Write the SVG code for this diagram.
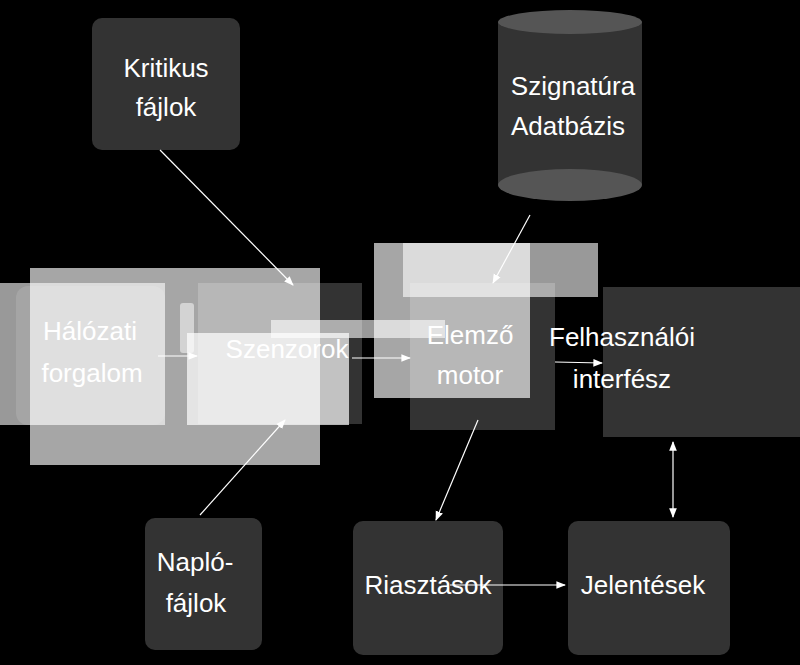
<svg xmlns="http://www.w3.org/2000/svg" width="800" height="665" viewBox="0 0 800 665">
<defs>
<style>
.n{fill:#333;}
.t{font-family:"Liberation Sans",Arial,sans-serif;font-size:26px;fill:#fff;text-anchor:middle;}
.c{stroke:#fff;stroke-width:1.2;fill:none;marker-end:url(#a);}
</style>
<marker id="a" viewBox="0 0 10 10" refX="9" refY="5" markerWidth="8" markerHeight="8" orient="auto-start-reverse"><path d="M0,1 L10,5 L0,9 z" fill="#fff"/></marker>
</defs>
<rect width="800" height="665" fill="#000"/>
<g id="kritikus"><rect class="n" x="92" y="18" width="148" height="132" rx="10"/><text class="t" x="166" y="77">Kritikus</text><text class="t" x="166" y="116">fájlok</text></g>
<g id="szignatura">
<rect class="n" x="498" y="22" width="144" height="163"/>
<ellipse cx="570" cy="185" rx="72" ry="16" fill="#555"/>
<ellipse cx="570" cy="22" rx="72" ry="12" fill="#555"/>
<text class="t" x="573" y="95">Szignatúra</text><text class="t" x="568" y="135">Adatbázis</text></g>
<g id="halozati">
<rect x="30" y="268" width="290" height="197" fill="#fff" fill-opacity="0.65"/>
<rect x="0" y="283" width="165" height="142" fill="#fff" fill-opacity="0.6"/>
<rect x="16" y="286" width="149" height="139" rx="12" fill="#fff" fill-opacity="0.12"/>
<rect x="180" y="303" width="14" height="50" rx="3" fill="#fff" fill-opacity="0.5"/>
<text class="t" x="90" y="340">Hálózati</text><text class="t" x="92" y="382">forgalom</text></g>
<g id="szenzorok">
<rect x="198" y="283" width="164" height="141" fill="#fff" fill-opacity="0.2"/>
<rect x="187" y="333" width="162" height="92" fill="#fff" fill-opacity="0.7"/>
<rect x="271" y="320" width="174" height="18" fill="#fff" fill-opacity="0.6"/>
<text class="t" x="287" y="358">Szenzorok</text></g>
<g id="elemzo">
<rect x="374" y="243" width="156" height="155" fill="#fff" fill-opacity="0.65"/>
<rect x="410" y="283" width="145" height="147" fill="#fff" fill-opacity="0.2"/>
<rect x="403" y="243" width="195" height="54" fill="#fff" fill-opacity="0.6"/>
<text class="t" x="470" y="344">Elemző</text><text class="t" x="470" y="384">motor</text></g>
<g id="felhasznaloi"><rect class="n" x="603" y="287" width="197" height="150"/><text class="t" x="622" y="346" text-anchor="start">Felhasználói</text><text class="t" x="622" y="388" text-anchor="start">interfész</text></g>
<g id="naplo"><rect class="n" x="145" y="518" width="117" height="132" rx="10"/><text class="t" x="195" y="571">Napló-</text><text class="t" x="196" y="612">fájlok</text></g>
<g id="riasztasok"><rect class="n" x="353" y="521" width="150" height="134" rx="10"/><text class="t" x="428" y="594">Riasztások</text></g>
<g id="jelentesek"><rect class="n" x="568" y="521" width="162" height="134" rx="10"/><text class="t" x="643" y="594">Jelentések</text></g>
<g id="connectors">
<path class="c" d="M160,150 L293,285"/>
<path class="c" d="M530,215 L493,283"/>
<path class="c" d="M200,515 L285,420"/>
<path class="c" d="M478,420 L436,520"/>
<path class="c" d="M450,585 L565,585"/>
<path class="c" d="M673,442 L673,517" style="marker-start:url(#a)"/>
<path class="c" d="M158,356 L197,356"/>
<path class="c" d="M352,358 L410,358"/>
<path class="c" d="M555,362 L602,363"/>
</g>
</svg>
